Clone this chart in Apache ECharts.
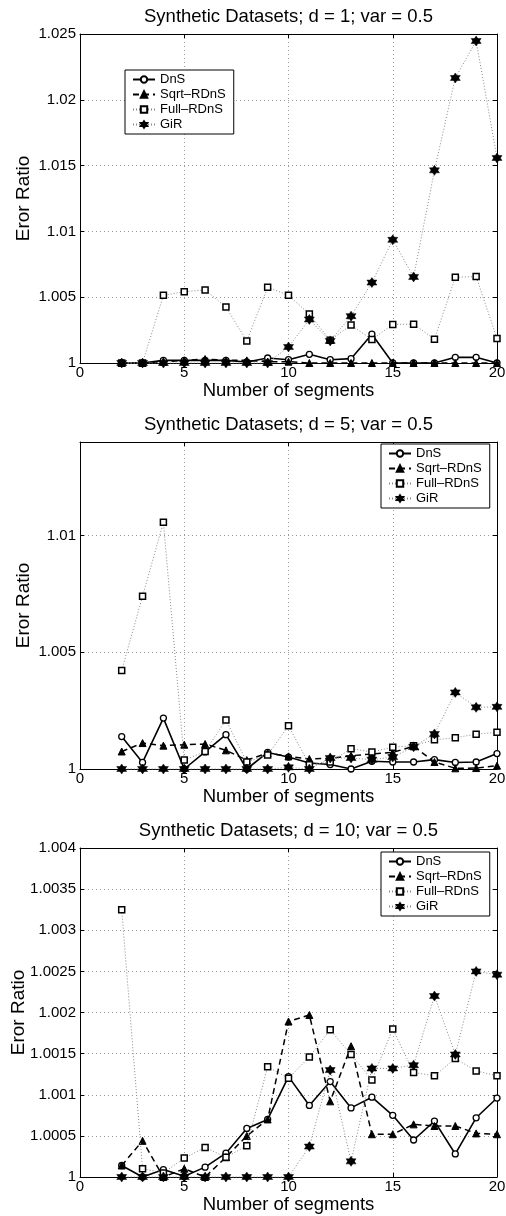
<!DOCTYPE html>
<html>
<head>
<meta charset="utf-8">
<script src="https://cdn.jsdelivr.net/npm/echarts@6/dist/echarts.min.js"></script>
<style>
  html, body { margin: 0; padding: 0; background: #fff; }
  #chart { width: 506px; height: 1216px; }
</style>
</head>
<body>
<div id="chart"></div>
<script>
// Number of segments (x values shared by every panel)
const segments = [2, 3, 4, 5, 6, 7, 8, 9, 10, 11, 12, 13, 14, 15, 16, 17, 18, 19, 20];

const seriesNames = ['DnS', 'Sqrt\u2013RDnS', 'Full\u2013RDnS', 'GiR'];
const panelTitles = [
  'Synthetic Datasets; d = 1; var = 0.5',
  'Synthetic Datasets; d = 5; var = 0.5',
  'Synthetic Datasets; d = 10; var = 0.5'
];

// d = 1
const dns1  = [1, 1, 1.0002, 1.0002, 1.0002, 1.0002, 1.00008, 1.00038, 1.00025, 1.00066, 1.00025, 1.00033, 1.00219, 1, 1, 1, 1.00043, 1.00043, 1];
const sqrt1 = [1, 1, 1.0001, 1.0002, 1.0003, 1.0002, 1.0002, 1.0001, 1.0001, 1, 1, 1, 1, 1, 1, 1, 1, 1, 1];
const full1 = [1, 1, 1.00514, 1.00542, 1.00555, 1.00425, 1.00168, 1.00575, 1.00514, 1.00372, 1.00173, 1.00288, 1.00178, 1.00293, 1.00295, 1.00181, 1.00651, 1.00657, 1.00186];
const gir1  = [1, 1, 1, 1, 1, 1, 1, 1, 1.00122, 1.00331, 1.00168, 1.00356, 1.00611, 1.00936, 1.00654, 1.01464, 1.02166, 1.02447, 1.01558];

// d = 5
const dns2  = [1.00139, 1.00028, 1.00218, 1, 1.00073, 1.00147, 1, 1.00071, 1.00051, 1.00026, 1.00019, 1, 1.00033, 1.0003, 1.0003, 1.0004, 1.00028, 1.0003, 1.00066];
const sqrt2 = [1.00075, 1.00111, 1.001, 1.00104, 1.00107, 1.0008, 1.00038, 1.00068, 1.00054, 1.00043, 1.00046, 1.00057, 1.00064, 1.00071, 1.00097, 1.0003, 1.00003, 1.00004, 1.00014];
const full2 = [1.00422, 1.0074, 1.01056, 1.00038, 1.00075, 1.0021, 1.0003, 1.0006, 1.00185, 1.00018, 1.0003, 1.00087, 1.00073, 1.00093, 1.001, 1.00125, 1.00134, 1.00149, 1.00157];
const gir2  = [1, 1, 1, 1, 1, 1, 1, 1, 1.00007, 1, 1.00047, 1.00047, 1.0004, 1.00051, 1.00095, 1.0015, 1.00328, 1.00264, 1.00266];

// d = 10
const dns3  = [1.00014, 1, 1.00009, 1.00001, 1.00012, 1.00029, 1.00059, 1.0007, 1.00122, 1.00087, 1.00116, 1.00084, 1.00097, 1.00075, 1.00045, 1.00068, 1.00028, 1.00072, 1.00096];
const sqrt3 = [1.00014, 1.00044, 1, 1.0001, 1, 1.00024, 1.0005, 1.0007, 1.00189, 1.00197, 1.00092, 1.00159, 1.00052, 1.00052, 1.00064, 1.00062, 1.00062, 1.00053, 1.00052];
const full3 = [1.00325, 1.0001, 1.00005, 1.00023, 1.00036, 1.00024, 1.00038, 1.00134, 1.0012, 1.00146, 1.00179, 1.00149, 1.00118, 1.0018, 1.00127, 1.00123, 1.00144, 1.00129, 1.00123];
const gir3  = [1, 1, 1, 1, 1, 1, 1, 1, 1, 1.00037, 1.0013, 1.00019, 1.00132, 1.00132, 1.00136, 1.0022, 1.00149, 1.0025, 1.00246];

// y-axis ranges and tick steps per panel
const yMins = [1, 1, 1];
const yMaxs = [1.025, 1.014, 1.004];
const yIntervals = [0.005, 0.005, 0.0005];
const xTicks = [0, 5, 10, 15, 20];

const panelData = [
  [dns1, sqrt1, full1, gir1],
  [dns2, sqrt2, full2, gir2],
  [dns3, sqrt3, full3, gir3]
];

// Layout of the three plot boxes
const grids = [
  { left: 80, width: 417, top: 34, height: 329 },
  { left: 80, width: 417, top: 442, height: 327 },
  { left: 80, width: 417, top: 848, height: 329 }
];
const legendPos = [
  { left: 125, top: 70 },
  { left: 381, top: 444 },
  { left: 381, top: 852 }
];
// y-axis title distance from the axis (wider tick labels on the last panel)
const yNameGaps = [47, 47, 52];

const FONT = 'Liberation Sans, Arial, Helvetica, sans-serif';

// Six-pointed star marker
const hexagram = 'path://M0,-10L8.66,5L-8.66,5Z M0,10L-8.66,-5L8.66,-5Z';

const styles = [
  { symbol: 'circle', symbolSize: 6, line: { color: '#000', width: 1.6, type: 'solid' }, item: { color: '#fff', borderColor: '#000', borderWidth: 1.3 } },
  { symbol: 'triangle', symbolSize: 7, line: { color: '#000', width: 1.5, type: [6, 4] }, item: { color: '#000', borderColor: '#000', borderWidth: 1 } },
  { symbol: 'rect', symbolSize: 6, line: { color: '#888', width: 1, type: [1, 2] }, item: { color: '#fff', borderColor: '#000', borderWidth: 1.5 } },
  { symbol: hexagram, symbolSize: 10, line: { color: '#888', width: 1, type: [1, 2] }, item: { color: '#000', borderColor: '#000', borderWidth: 0.5 } }
];

function fmt(v) {
  return String(parseFloat(v.toFixed(5)));
}

const option = {
  animation: false,
  backgroundColor: '#fff',
  textStyle: { fontFamily: FONT },
  title: [], legend: [], grid: [], xAxis: [], yAxis: [], series: []
};

for (let p = 0; p < 3; p++) {
  const g = grids[p];
  option.grid.push({
    left: g.left, top: g.top, width: g.width, height: g.height,
    show: false, containLabel: false, outerBoundsMode: 'none'
  });
  option.title.push({
    text: panelTitles[p],
    left: g.left + g.width / 2, top: g.top - 27, textAlign: 'center', padding: 0,
    textStyle: { fontFamily: FONT, fontSize: 18.5, fontWeight: 'normal', color: '#000', lineHeight: 20 }
  });

  // bottom x axis
  option.xAxis.push({
    type: 'value', gridIndex: p, min: 0, max: 20, interval: 5,
    name: 'Number of segments', nameLocation: 'middle', nameGap: 18, nameMoveOverlap: false,
    nameTextStyle: { fontFamily: FONT, fontSize: 18.5, color: '#000' },
    axisLine: { show: true, onZero: false, lineStyle: { color: '#000', width: 1 } },
    axisTick: { show: true, inside: true, length: 4, lineStyle: { color: '#000' } },
    axisLabel: { fontFamily: FONT, fontSize: 15, color: '#000', margin: 2, formatter: v => (xTicks.indexOf(v) >= 0 ? String(v) : '') },
    splitLine: { show: true, lineStyle: { color: '#999', type: [1, 3], width: 1 } }
  });
  // top x axis (frame)
  option.xAxis.push({
    type: 'value', gridIndex: p, min: 0, max: 20, interval: 5, position: 'top',
    axisLine: { show: true, onZero: false, lineStyle: { color: '#000', width: 1 } },
    axisTick: { show: true, inside: true, length: 4, lineStyle: { color: '#000' } },
    axisLabel: { show: false }, splitLine: { show: false }
  });
  // left y axis
  option.yAxis.push({
    type: 'value', gridIndex: p, min: yMins[p], max: yMaxs[p], interval: yIntervals[p],
    name: 'Eror Ratio', nameLocation: 'middle', nameGap: yNameGaps[p], nameMoveOverlap: false,
    nameTextStyle: { fontFamily: FONT, fontSize: 19, color: '#000' },
    axisLine: { show: true, onZero: false, lineStyle: { color: '#000', width: 1 } },
    axisTick: { show: true, inside: true, length: 4, lineStyle: { color: '#000' } },
    axisLabel: { fontFamily: FONT, fontSize: 15, color: '#000', margin: 4, showMaxLabel: p !== 1, formatter: fmt },
    splitLine: { show: true, lineStyle: { color: '#999', type: [1, 3], width: 1 } }
  });
  // right y axis (frame)
  option.yAxis.push({
    type: 'value', gridIndex: p, min: yMins[p], max: yMaxs[p], interval: yIntervals[p], position: 'right',
    axisLine: { show: true, onZero: false, lineStyle: { color: '#000', width: 1 } },
    axisTick: { show: true, inside: true, length: 4, lineStyle: { color: '#000' } },
    axisLabel: { show: false }, splitLine: { show: false }
  });

  const names = seriesNames.map(n => n + (p === 0 ? '' : '\u200b'.repeat(p)));
  option.legend.push({
    data: names, orient: 'vertical', left: legendPos[p].left, top: legendPos[p].top,
    backgroundColor: '#fff', borderColor: '#000', borderWidth: 1,
    padding: [3, 8, 3, 7], itemGap: 2, itemWidth: 22, itemHeight: 8,
    textStyle: { fontFamily: FONT, fontSize: 13, color: '#000', lineHeight: 13 },
    formatter: n => n.replace(/\u200b/g, '')
  });

  for (let s = 0; s < 4; s++) {
    const st = styles[s];
    option.series.push({
      name: names[s], type: 'line',
      xAxisIndex: p * 2, yAxisIndex: p * 2,
      data: segments.map((x, i) => [x, panelData[p][s][i]]),
      symbol: st.symbol, symbolSize: st.symbolSize, showAllSymbol: true,
      lineStyle: st.line, itemStyle: st.item,
      clip: false, z: 2 + s
    });
  }
}

const chart = echarts.init(document.getElementById('chart'), null, { renderer: 'canvas' });
chart.setOption(option);
</script>
</body>
</html>
